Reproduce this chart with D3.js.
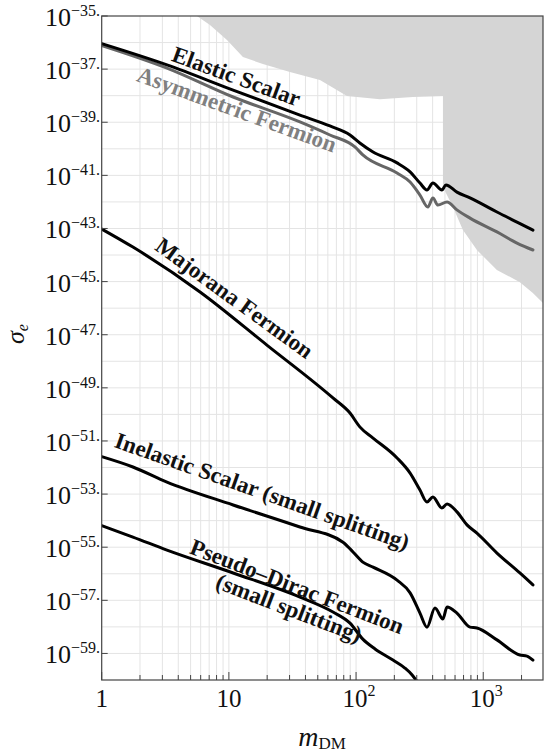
<!DOCTYPE html>
<html>
<head>
<meta charset="utf-8">
<script src="https://d3js.org/d3.v7.min.js"></script>
<style>
  body { margin: 0; background: #fff; }
  text { font-family: "Liberation Serif", "Times New Roman", serif; fill: #111; }
  .grid line { stroke: #e4e4e4; stroke-width: 1; }
  .curve { fill: none; stroke-width: 3; stroke-linejoin: round; stroke-linecap: round; }
  .lbl { font-weight: bold; font-size: 23px; }
</style>
</head>
<body>
<script>
// dark matter mass (GeV) and log10 of sigma_e
const elasticMass = [1, 3.26, 10.8, 36.2, 62.3, 89.6, 107, 136, 210, 266, 318, 361, 402, 473, 509, 621, 787, 909, 1282, 1842, 2459];
const elasticLog  = [-36.04, -36.84, -37.79, -38.73, -39.14, -39.48, -39.78, -40.12, -40.53, -40.87, -41.29, -41.55, -41.29, -41.55, -41.36, -41.63, -41.85, -42.00, -42.38, -42.76, -43.06];

const asymMass = [1, 3.26, 10.8, 36.2, 62.3, 97.9, 113, 210, 266, 318, 367, 402, 440, 519, 621, 787, 1282, 1842, 2459];
const asymLog  = [-36.11, -36.96, -38.05, -38.99, -39.48, -39.93, -40.23, -40.91, -41.25, -41.74, -42.19, -41.85, -42.12, -42.00, -42.30, -42.61, -43.13, -43.55, -43.81];

const majoranaMass = [1, 1.76, 5.93, 19.9, 65.8, 89.6, 107, 136, 210, 266, 318, 361, 402, 473, 519, 621, 745, 892, 1282, 1941, 2459];
const majoranaLog  = [-43.02, -43.70, -45.39, -47.39, -49.38, -49.95, -50.47, -50.89, -51.64, -52.21, -52.85, -53.30, -53.11, -53.52, -53.37, -53.67, -54.16, -54.47, -55.22, -55.97, -56.42];

const inelasticMass = [1, 1.76, 3.26, 10.8, 36.2, 78.9, 94.6, 113, 136, 210, 266, 318, 361, 417, 482, 519, 621, 787, 892, 1282, 1941, 2206, 2459];
const inelasticLog  = [-51.59, -51.98, -52.55, -53.41, -54.24, -54.81, -55.18, -55.56, -55.75, -56.24, -56.72, -57.48, -58.01, -57.29, -57.70, -57.25, -57.48, -58.01, -58.04, -58.49, -59.06, -59.10, -59.25];

const pseudoMass = [1, 1.76, 3.26, 10.8, 36.2, 65.8, 89.6, 113, 141, 195, 242, 276, 307];
const pseudoLog  = [-54.19, -54.62, -55.11, -55.97, -56.88, -57.44, -57.86, -58.46, -58.83, -59.25, -59.55, -59.81, -60.11];

// excluded region boundary (clockwise from top left)
const regionMass = [5.61, 7.10, 9.66, 12.9, 18.5, 30.2, 52.0, 84.8, 154, 280, 482, 482, 578, 692, 892, 1280, 1941, 2455, 2950, 2950];
const regionLog  = [-35.00, -35.34, -35.90, -36.54, -36.81, -37.11, -37.41, -38.01, -38.13, -38.05, -38.01, -41.44, -42.19, -43.06, -43.81, -44.56, -45.02, -45.43, -45.81, -35.00];

const yTickExps = [-35, -37, -39, -41, -43, -45, -47, -49, -51, -53, -55, -57, -59];
const xTickLabels = [[1, "1", ""], [10, "10", ""], [100, "10", "2"], [1000, "10", "3"]];

const W = 549, H = 752;
const pLeft = 101.7, pRight = 543, pTop = 16, pBottom = 680;

const x = d3.scaleLog().domain([1, 2950]).range([pLeft, pRight]);
const y = d3.scaleLog().domain([1e-60, 1e-35]).range([pBottom, pTop]);

const svg = d3.select("body").append("svg")
  .attr("width", W).attr("height", H);

svg.append("defs").append("clipPath").attr("id", "plot")
  .append("rect").attr("x", pLeft).attr("y", pTop)
  .attr("width", pRight - pLeft).attr("height", pBottom - pTop);

// grid
const grid = svg.append("g").attr("class", "grid");
grid.selectAll(".vx").data(x.ticks().filter(d => d > 1)).join("line")
  .attr("x1", d => x(d)).attr("x2", d => x(d))
  .attr("y1", pTop).attr("y2", pBottom);
grid.selectAll(".hy").data(d3.range(-59, -35)).join("line")
  .attr("x1", pLeft).attr("x2", pRight)
  .attr("y1", d => y(Math.pow(10, d))).attr("y2", d => y(Math.pow(10, d)));

const plot = svg.append("g").attr("clip-path", "url(#plot)");

// excluded region
const region = regionMass.map((m, i) => [m, Math.pow(10, regionLog[i])]);
plot.append("path")
  .attr("d", d3.line().x(d => x(d[0])).y(d => y(d[1]))(region) + "Z")
  .attr("fill", "#d5d5d5");

const line = d3.line().x(d => x(d[0])).y(d => y(d[1])).curve(d3.curveMonotoneX);
const curves = [
  { m: asymMass, e: asymLog, color: "#666" },
  { m: elasticMass, e: elasticLog, color: "#000" },
  { m: majoranaMass, e: majoranaLog, color: "#000" },
  { m: inelasticMass, e: inelasticLog, color: "#000" },
  { m: pseudoMass, e: pseudoLog, color: "#000" }
];
curves.forEach(c => {
  plot.append("path")
    .attr("class", "curve")
    .attr("stroke", c.color)
    .attr("d", line(c.m.map((m, i) => [m, Math.pow(10, c.e[i])])));
});

// curve labels: centre in data coordinates, angle in degrees
const labels = [
  { lines: ["Elastic Scalar"], m: 11.4, e: -37.30, a: 20, color: "#111" },
  { lines: ["Asymmetric Fermion"], m: 11.5, e: -38.54, a: 20, color: "#808080" },
  { lines: ["Majorana Fermion"], m: 10.97, e: -45.64, a: 36, color: "#111" },
  { lines: ["Inelastic Scalar (small splitting)"], m: 18.2, e: -52.92, a: 19.5, color: "#111" },
  { lines: ["Pseudo\u2013Dirac Fermion", "(small splitting)"], m: 31.8, e: -56.91, a: 21, color: "#111" }
];
labels.forEach(l => {
  const g = svg.append("g")
    .attr("transform", `translate(${x(l.m)},${y(Math.pow(10, l.e))}) rotate(${l.a})`);
  l.lines.forEach((s, i) => {
    g.append("text")
      .attr("class", "lbl")
      .attr("text-anchor", "middle")
      .attr("y", (i - (l.lines.length - 1) / 2) * 23 + 7)
      .style("fill", l.color)
      .text(s);
  });
});

// frame
svg.append("rect")
  .attr("x", pLeft).attr("y", pTop)
  .attr("width", pRight - pLeft).attr("height", pBottom - pTop)
  .attr("fill", "none").attr("stroke", "#444").attr("stroke-width", 1.2);

// y ticks and labels
yTickExps.forEach(e => {
  const yy = y(Math.pow(10, e));
  svg.append("line").attr("x1", pLeft).attr("x2", pLeft + 6)
    .attr("y1", yy).attr("y2", yy).attr("stroke", "#444");
  const t = svg.append("text").attr("x", 100).attr("y", yy + 10)
    .attr("text-anchor", "end").style("font-size", "26px");
  t.append("tspan").text("10");
  t.append("tspan").attr("dy", -10).style("font-size", "16px").text("\u2212" + (-e) + ".");
});

// x ticks and labels
x.ticks().forEach(d => {
  const major = Math.abs(Math.log10(d) - Math.round(Math.log10(d))) < 1e-9;
  svg.append("line").attr("x1", x(d)).attr("x2", x(d))
    .attr("y1", pBottom).attr("y2", pBottom - (major ? 8 : 5)).attr("stroke", "#444");
});
xTickLabels.forEach(([v, base, sup]) => {
  const t = svg.append("text").attr("x", x(v) + (sup ? 3 : 0)).attr("y", 707)
    .attr("text-anchor", "middle").style("font-size", "25px");
  t.append("tspan").text(base);
  if (sup) t.append("tspan").attr("dy", -11).style("font-size", "16px").text(sup);
});

// axis titles
const xl = svg.append("text").attr("x", 322).attr("y", 746)
  .attr("text-anchor", "middle").style("font-size", "28px");
xl.append("tspan").style("font-style", "italic").text("m");
xl.append("tspan").attr("dy", 3).style("font-size", "17px").text("DM");

const yl = svg.append("text")
  .attr("transform", "translate(24,334) rotate(-90)")
  .attr("text-anchor", "middle").style("font-size", "26px");
yl.append("tspan").style("font-style", "italic").text("\u03c3");
yl.append("tspan").attr("dy", 4).style("font-size", "16px").style("font-style", "italic").text("e");
</script>
</body>
</html>
